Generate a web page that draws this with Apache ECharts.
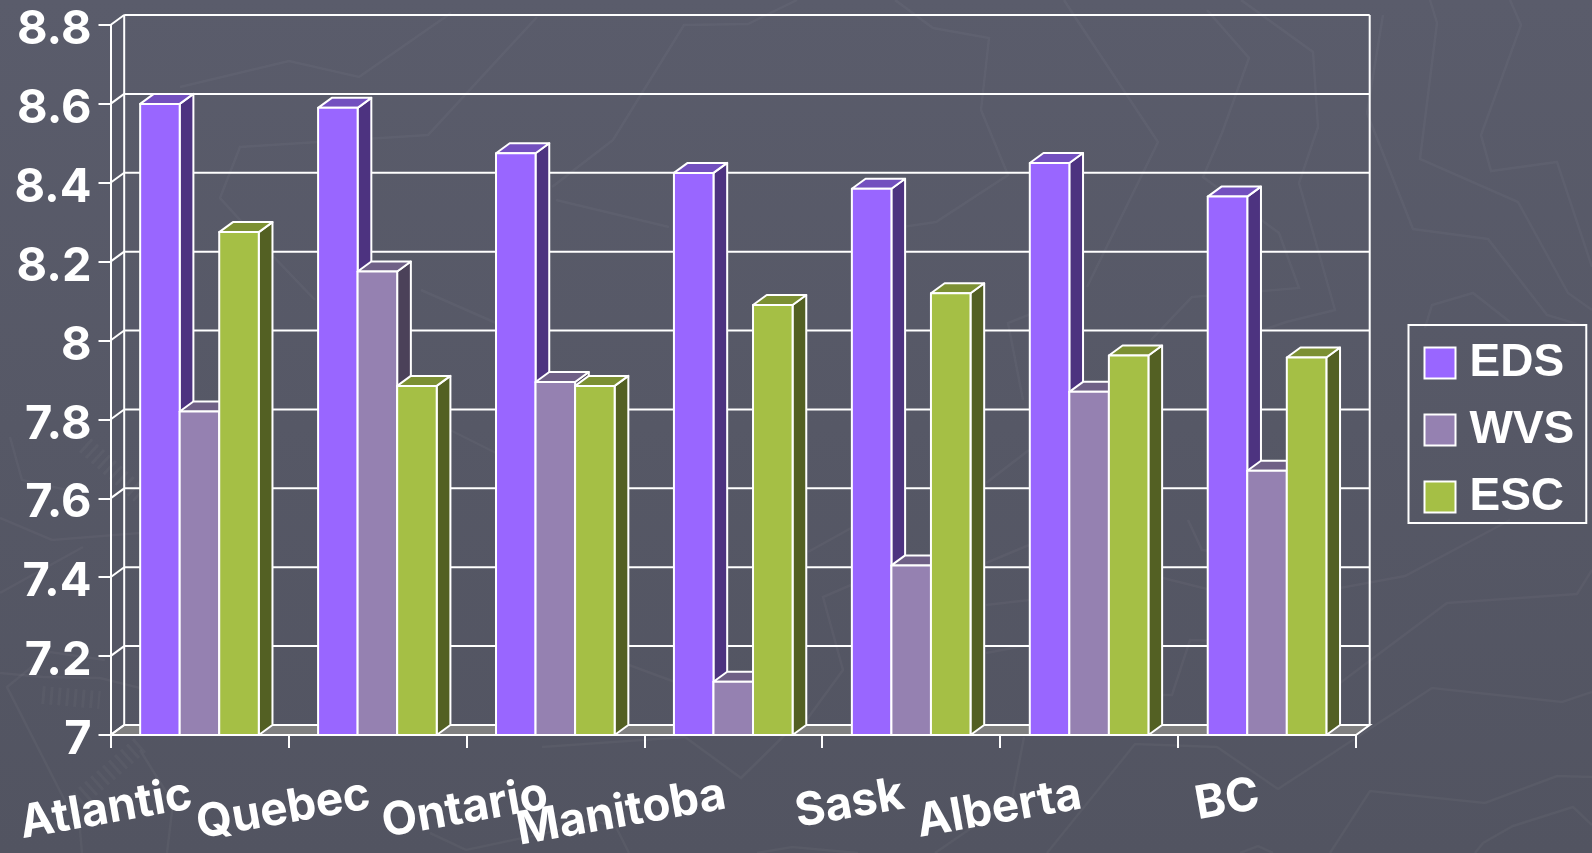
<!DOCTYPE html>
<html><head><meta charset="utf-8">
<style>html,body{margin:0;padding:0;background:#555766}#c{width:1592px;height:853px}</style>
<script src="https://cdn.jsdelivr.net/npm/echarts@6/dist/echarts.min.js"></script>
</head><body><div id="c"></div>
<script>
const categories = ['Atlantic','Quebec','Ontario','Manitoba','Sask','Alberta','BC'];
const EDS = [8.60,8.59,8.475,8.425,8.385,8.45,8.365];
const WVS = [7.82,8.175,7.895,7.135,7.43,7.87,7.67];
const ESC = [8.275,7.885,7.885,8.09,8.12,7.962,7.957];
const yTicks = [7,7.2,7.4,7.6,7.8,8,8.2,8.4,8.6,8.8];

const DX = 13.7, DY = 10, W = '#ffffff', LW = 2;
const AXIS_FONT = 'Inter';
const chart = echarts.init(document.getElementById('c'));

function bar3d(idx, front, top, side){
  return function(params, api){
    const band = api.size([1,0])[0];
    const bw = band/4.5;
    const c = api.coord([api.value(0), api.value(1)]);
    const base = api.coord([api.value(0), 7]);
    const x0 = c[0]-band/2+0.75*bw+idx*bw, x1 = x0+bw, y0 = c[1], y1 = base[1];
    const st = f => ({fill:f, stroke:W, lineWidth:LW, lineJoin:'round'});
    return {type:'group', children:[
      {type:'polygon', shape:{points:[[x1,y0],[x1+DX,y0-DY],[x1+DX,y1-DY],[x1,y1]]}, style:st(side)},
      {type:'polygon', shape:{points:[[x0,y0],[x0+DX,y0-DY],[x1+DX,y0-DY],[x1,y0]]}, style:st(top)},
      {type:'rect', shape:{x:x0,y:y0,width:bw,height:y1-y0}, style:st(front)}
    ]};
  };
}
const mk = (name,vals,idx,front,top,side)=>({
  name, type:'custom', z:5, clip:false, itemStyle:{color:front},
  data:categories.map((c,i)=>[c,vals[i]]),
  encode:{x:0,y:1}, renderItem:bar3d(idx,front,top,side), silent:true
});

// 3-D walls of the plot: floor, back wall grid and left side wall
const walls = {
  type:'custom', z:1, clip:false, silent:true,
  data:yTicks.map(t=>[categories[0],t]), encode:{x:0,y:1},
  renderItem(params, api){
    const t = api.value(1);
    const band = api.size([1,0])[0];
    const p = api.coord([0,t]);
    const xL = p[0]-band/2, xR = xL+band*categories.length, y = p[1];
    const ln = (a,b,c,d)=>({type:'line',shape:{x1:a,y1:b,x2:c,y2:d},style:{stroke:W,lineWidth:LW}});
    const kids = [ln(xL,y,xL+DX,y-DY), ln(xL+DX,y-DY,xR+DX,y-DY)];
    if(t===yTicks[0]){
      const yTop = api.coord([0,yTicks[yTicks.length-1]])[1];
      kids.unshift({type:'polygon',shape:{points:[[xL,y],[xL+DX,y-DY],[xR+DX,y-DY],[xR,y]]},style:{fill:'#808080',stroke:W,lineWidth:LW}});
      kids.push(ln(xL+DX,y-DY,xL+DX,yTop-DY), ln(xR+DX,y-DY,xR+DX,yTop-DY));
    }
    return {type:'group',children:kids};
  }
};

// Faint decorative texture of the slide background
const texture = [
 [[1430,0],[1437,23],[1420,159],[1518,202],[1568,293],[1592,310]],
 [[1510,0],[1521,25],[1481,135],[1491,171],[1557,162],[1592,267]],
 [[1383,15],[1367,113],[1413,229],[1488,239],[1547,315],[1587,327]],
 [[1425,328],[1432,305],[1473,293],[1510,322]],
 [[1163,578],[1207,589],[1340,588],[1405,576],[1510,520]],
 [[1340,683],[1447,603],[1577,594],[1592,570]],
 [[1047,853],[1135,744],[1217,747],[1278,789],[1432,688],[1562,702],[1592,692]],
 [[1330,853],[1370,791],[1485,803],[1557,776],[1592,777]],
 [[1475,853],[1483,843],[1513,826],[1573,807],[1592,825]],
 [[1162,695],[1172,695],[1190,640],[1230,641]],
 [[1188,520],[1202,550],[1230,553]],
 [[1240,853],[1258,846],[1273,853]],
 [[10,437],[22,480],[67,490]],
 [[0,518],[52,540],[140,533]],
 [[0,593],[83,547]],
 [[0,673],[43,677],[100,678],[140,688]],
 [[105,660],[50,652],[7,687],[63,797],[80,830],[82,853]],
 [[140,750],[173,803],[167,853]],
 [[180,87],[289,61],[359,77],[451,13]],
 [[315,300],[270,253],[220,198],[240,147],[428,135],[537,17]],
 [[797,0],[748,24],[684,25],[613,140],[552,187]],
 [[556,200],[669,227]],
 [[895,0],[933,28],[989,38],[981,110],[1008,175],[936,222],[902,227]],
 [[1064,0],[1075,17],[1158,142],[1087,287]],
 [[1207,10],[1249,58],[1222,133],[1203,177],[1279,233],[1299,288],[1192,297],[1151,340]],
 [[1241,0],[1313,52],[1318,127],[1299,183],[1335,310],[1286,322],[1215,347]],
 [[421,290],[496,323]],
 [[1083,293],[1008,323],[1023,400]],
 [[851,585],[823,597],[843,670],[797,733]],
 [[542,747],[685,737],[741,778],[797,723]],
 [[450,430],[496,453]],
 [[629,665],[675,682]],
 [[808,552],[853,527]],
 [[986,605],[1029,600]],
 [[986,653],[1029,645]],
 [[986,563],[1029,545]],
 [[986,483],[1029,450]],
 [[935,853],[1012,800],[1024,737]],
 [[430,833],[466,850],[598,822],[616,827],[629,853]],
 [[757,853],[792,847],[858,853]]
];
const hatching = [
 [[85,445],[140,495]],
 [[78,800],[140,745]],
 [[42,695],[100,700]]
];

chart.setOption({
  animation:false,
  backgroundColor:{type:'linear',x:0,y:0,x2:0,y2:1,colorStops:[{offset:0,color:'#5a5c6b'},{offset:1,color:'#525461'}]},
  graphic:[
    ...texture.map(points=>({type:'polyline',z:-10,silent:true,shape:{points},style:{stroke:'#ffffff',opacity:0.035,lineWidth:2.5,fill:null}})),
    ...hatching.map(points=>({type:'polyline',z:-10,silent:true,shape:{points},style:{stroke:'#ffffff',opacity:0.03,lineWidth:18,lineDash:[3,5],fill:null}}))
  ],
  grid:{left:110.5,top:25,width:1245.5,height:710,containLabel:false,outerBoundsMode:'none'},
  legend:{
    left:1408.5, top:325, orient:'vertical', padding:[15,12,3,15], itemGap:21,
    itemWidth:31, itemHeight:31, itemStyle:{borderColor:W,borderWidth:2},
    borderColor:W, borderWidth:2, backgroundColor:'transparent', icon:'rect',
    data:['EDS','WVS','ESC'], selectedMode:false,
    textStyle:{color:W,fontFamily:'Liberation Sans',fontWeight:'bold',fontSize:46,padding:[0,0,0,9]}
  },
  xAxis:{type:'category',data:categories,boundaryGap:true,
    axisLine:{lineStyle:{color:W,width:2}},
    axisTick:{show:true,alignWithLabel:false,length:13,lineStyle:{color:W,width:2}},
    axisLabel:{interval:0,rotate:10,margin:58,color:W,fontFamily:AXIS_FONT,fontWeight:'bold',fontSize:46,hideOverlap:false,padding:[0,8,0,0]},
    splitLine:{show:false}},
  yAxis:{type:'value',min:7,max:8.8,interval:0.2,
    axisLine:{show:true,lineStyle:{color:W,width:2}},
    axisTick:{show:true,length:12,lineStyle:{color:W,width:2}},
    axisLabel:{margin:19,color:W,fontFamily:AXIS_FONT,fontWeight:'bold',fontSize:47,verticalAlign:'top',lineHeight:10,
      formatter:v=>String(+v.toFixed(1))},
    splitLine:{show:false}},
  series:[walls, mk('EDS',EDS,0,'#9966ff','#7350bf','#4d3380'), mk('WVS',WVS,1,'#9581b1','#6f6086','#4b4159'), mk('ESC',ESC,2,'#a5bf45','#7c9033','#536023')]
});
</script></body></html>
